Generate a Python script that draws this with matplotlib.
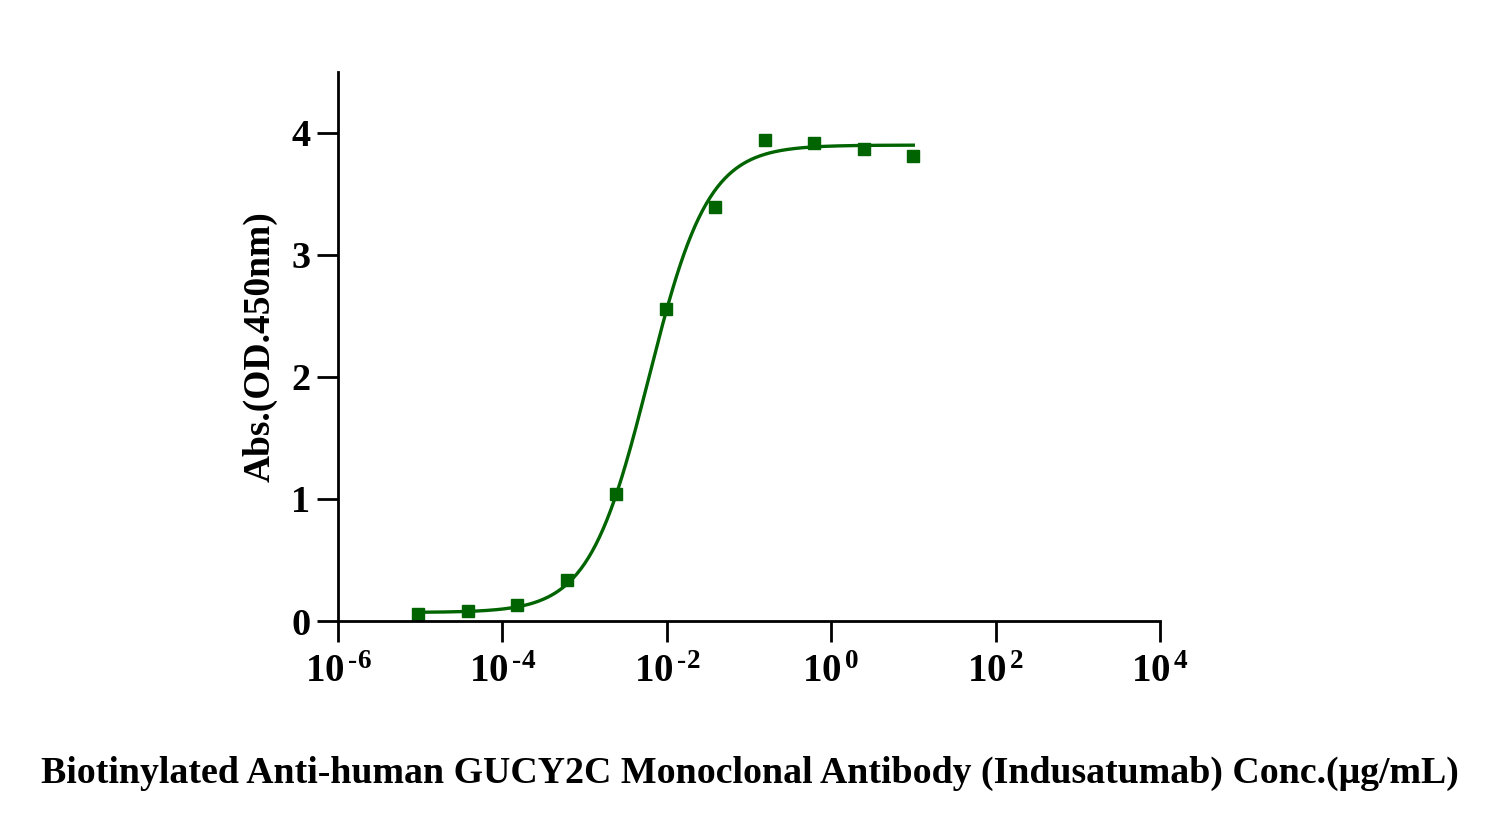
import numpy as np
import matplotlib.pyplot as plt

plt.rcParams['font.family'] = ['Liberation Serif', 'DejaVu Serif']
plt.rcParams['font.weight'] = 'bold'
plt.rcParams['mathtext.fontset'] = 'custom'
plt.rcParams['mathtext.rm'] = 'Liberation Serif:bold'
plt.rcParams['mathtext.bf'] = 'Liberation Serif:bold'
plt.rcParams['mathtext.it'] = 'Liberation Serif:bold'

# Measured points (4-fold dilution from 10 ug/mL)
conc = [10, 2.5, 0.625, 0.15625, 0.0390625, 0.009765625, 0.00244140625,
        0.0006103515625, 0.000152587890625, 3.814697265625e-05, 9.5367431640625e-06]
od450 = [3.81, 3.87, 3.915, 3.94, 3.39, 2.56, 1.04, 0.34, 0.13, 0.08, 0.057]

# 4PL fit parameters
bottom = 0.07
top = 3.90
ec50 = 0.0060
hill = 1.2

xticks = [1e-6, 1e-4, 1e-2, 1e0, 1e2, 1e4]
xticklabels = [r'$\mathbf{10^{\,\text{-}6}}$', r'$\mathbf{10^{\,\text{-}4}}$', r'$\mathbf{10^{\,\text{-}2}}$',
               r'$\mathbf{10^{\,0}}$', r'$\mathbf{10^{\,2}}$', r'$\mathbf{10^{\,4}}$']
yticks = [0, 1, 2, 3, 4]

green = '#006400'

fig = plt.figure(figsize=(15, 8.32), dpi=100)
ax = fig.add_axes([0.2253, 0.2536, 0.548, 0.66])

xfit = np.logspace(np.log10(min(conc)), np.log10(max(conc)), 400)
yfit = bottom + (top - bottom) / (1 + (ec50 / xfit) ** hill)
ax.plot(xfit, yfit, color=green, linewidth=2.4)
ax.plot(conc, od450, linestyle='none', marker='s', markersize=8, color=green)

ax.set_xscale('log')
ax.set_xlim(1e-6, 1e4)
ax.set_ylim(0, 4.5)
ax.set_xticks(xticks)
ax.set_xticklabels(xticklabels)
ax.minorticks_off()
ax.set_yticks(yticks)
ax.set_yticklabels([str(v) for v in yticks])

for s in ['top', 'right']:
    ax.spines[s].set_visible(False)
for s in ['left', 'bottom']:
    ax.spines[s].set_linewidth(2)
ax.tick_params(axis='both', width=2, length=15, direction='out')
ax.tick_params(axis='x', labelsize=28, pad=9)
ax.tick_params(axis='y', labelsize=27.5, pad=5)

ax.set_ylabel('Abs.(OD.450nm)', fontsize=27, fontweight='bold', labelpad=10)
fig.text(0.5, 0.07, 'Biotinylated Anti-human GUCY2C Monoclonal Antibody (Indusatumab) Conc.(\u03bcg/mL)',
         ha='center', va='center', fontsize=27.3, fontweight='bold')

fig.savefig('out.png', dpi=100)
